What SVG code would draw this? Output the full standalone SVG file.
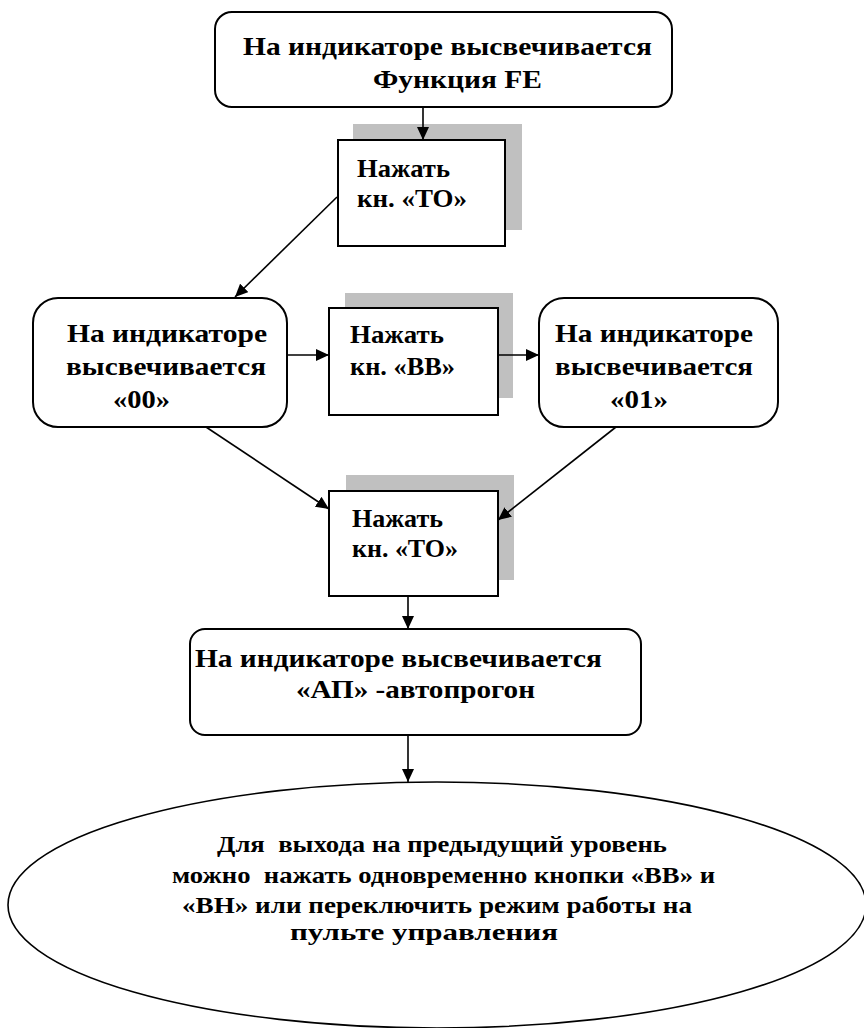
<svg xmlns="http://www.w3.org/2000/svg" width="864" height="1028" viewBox="0 0 864 1028">
<style>
.box{fill:#fff;stroke:#000;stroke-width:2}
.shadow{fill:#c0c0c0;stroke:none}
.t{font-weight:bold;font-size:26px;fill:#000}
.te{font-weight:bold;font-size:23px;fill:#000}
.c{fill:none;stroke:#000;stroke-width:1.6}
</style>
<defs>
<marker id="arr" markerUnits="userSpaceOnUse" markerWidth="13" markerHeight="12" refX="13" refY="6" orient="auto" viewBox="0 0 13 12">
<path d="M0,0 L13,6 L0,12 z" fill="#000" stroke="none"/>
</marker>
</defs>
<rect width="864" height="1028" fill="#fff"/>

<g font-family="'Liberation Serif', 'DejaVu Serif', serif">
<g id="n_top">
<rect class="box" x="215" y="12" width="457" height="95" rx="17"/>
<text class="t" x="243" y="55" textLength="409" lengthAdjust="spacingAndGlyphs">На индикаторе высвечивается</text>
<text class="t" x="373" y="88" textLength="169" lengthAdjust="spacingAndGlyphs">Функция FE</text>
</g>

<g id="n_to1">
<rect class="shadow" x="353" y="124" width="169" height="106"/>
<rect class="box" x="338" y="140" width="167" height="106"/>
<text class="t" x="357" y="177" textLength="93" lengthAdjust="spacingAndGlyphs">Нажать</text>
<text class="t" x="357" y="207" textLength="110" lengthAdjust="spacingAndGlyphs">кн. «ТО»</text>
</g>

<g id="n_00">
<rect class="box" x="33" y="298" width="254" height="129" rx="25"/>
<text class="t" x="67" y="342" textLength="200" lengthAdjust="spacingAndGlyphs">На индикаторе</text>
<text class="t" x="66" y="375" textLength="200" lengthAdjust="spacingAndGlyphs">высвечивается</text>
<text class="t" x="113" y="408" textLength="57" lengthAdjust="spacingAndGlyphs">«00»</text>
</g>

<g id="n_bb">
<rect class="shadow" x="345" y="293" width="168" height="105"/>
<rect class="box" x="329" y="308" width="169" height="107"/>
<text class="t" x="350" y="343" textLength="94" lengthAdjust="spacingAndGlyphs">Нажать</text>
<text class="t" x="350" y="375" textLength="105" lengthAdjust="spacingAndGlyphs">кн. «ВВ»</text>
</g>

<g id="n_01">
<rect class="box" x="539" y="298" width="239" height="129" rx="25"/>
<text class="t" x="555" y="342" textLength="198" lengthAdjust="spacingAndGlyphs">На индикаторе</text>
<text class="t" x="555" y="375" textLength="198" lengthAdjust="spacingAndGlyphs">высвечивается</text>
<text class="t" x="610" y="408" textLength="58" lengthAdjust="spacingAndGlyphs">«01»</text>
</g>

<g id="n_to2">
<rect class="shadow" x="346" y="475" width="168" height="105"/>
<rect class="box" x="329" y="491" width="169" height="105"/>
<text class="t" x="352" y="527" textLength="91" lengthAdjust="spacingAndGlyphs">Нажать</text>
<text class="t" x="352" y="557" textLength="106" lengthAdjust="spacingAndGlyphs">кн. «ТО»</text>
</g>

<g id="n_ap">
<rect class="box" x="190" y="629" width="451" height="106" rx="15"/>
<text class="t" x="195" y="667" textLength="407" lengthAdjust="spacingAndGlyphs">На индикаторе высвечивается</text>
<text class="t" x="296" y="698" textLength="239" lengthAdjust="spacingAndGlyphs">«АП» -автопрогон</text>
</g>

<g id="n_exit">
<ellipse cx="437" cy="905" rx="429" ry="123" fill="#fff" stroke="#000" stroke-width="1.6"/>
<text class="te" x="217" y="852" xml:space="preserve" textLength="450" lengthAdjust="spacingAndGlyphs">Для  выхода на предыдущий уровень</text>
<text class="te" x="172" y="883" xml:space="preserve" textLength="543" lengthAdjust="spacingAndGlyphs">можно  нажать одновременно кнопки «ВВ» и</text>
<text class="te" x="182" y="913" textLength="510" lengthAdjust="spacingAndGlyphs">«ВН» или переключить режим работы на</text>
<text class="te" x="290" y="940" textLength="268" lengthAdjust="spacingAndGlyphs">пульте управления</text>
</g>
</g>

<g id="connectors">
<line class="c" x1="423" y1="107" x2="423" y2="140" marker-end="url(#arr)"/>
<line class="c" x1="337" y1="197" x2="235" y2="297" marker-end="url(#arr)"/>
<line class="c" x1="287" y1="355" x2="329" y2="355" marker-end="url(#arr)"/>
<line class="c" x1="498" y1="355" x2="539" y2="355" marker-end="url(#arr)"/>
<line class="c" x1="206" y1="427" x2="329" y2="509" marker-end="url(#arr)"/>
<line class="c" x1="616" y1="427" x2="498" y2="520" marker-end="url(#arr)"/>
<line class="c" x1="408" y1="596" x2="408" y2="629" marker-end="url(#arr)"/>
<line class="c" x1="408" y1="735" x2="408" y2="782" marker-end="url(#arr)"/>
</g>
</svg>
